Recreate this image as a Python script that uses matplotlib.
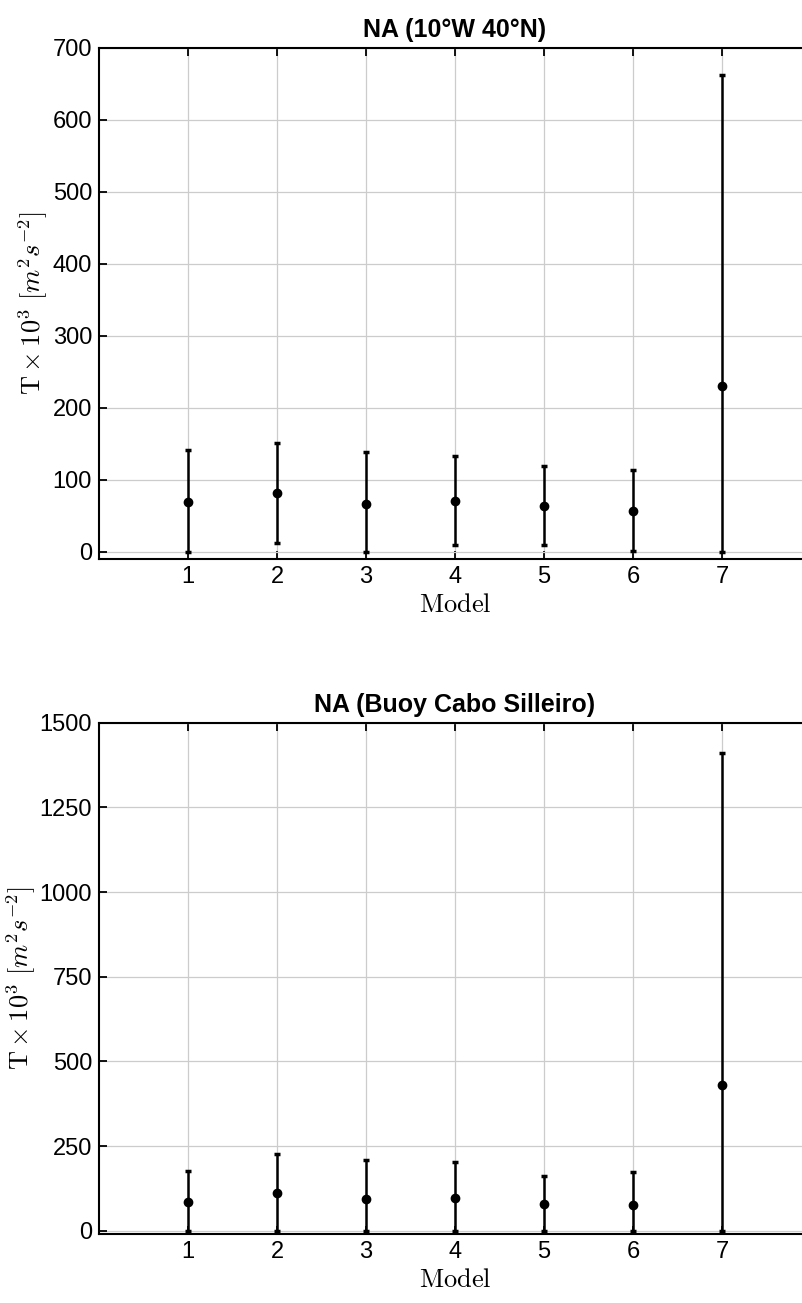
import matplotlib
matplotlib.use("Agg")
import matplotlib.pyplot as plt
import numpy as np

plt.rcParams['font.family'] = ['Liberation Sans Narrow', 'Liberation Sans', 'DejaVu Sans']
plt.rcParams['mathtext.fontset'] = 'cm'

models = [1, 2, 3, 4, 5, 6, 7]

# top panel: NA (10W 40N)
na_mean = [69, 82, 67, 70, 64, 56, 230]
na_low = [0, 12, 0, 9, 9, 1.5, 0]
na_high = [141, 151, 138, 133, 119, 113, 662]

# bottom panel: NA (Buoy Cabo Silleiro)
buoy_mean = [86, 113, 93, 97, 79, 77, 432]
buoy_low = [0, 0, 0, 0, 0, 0, 0]
buoy_high = [178, 228, 208, 204, 161, 173, 1409]

titles = ['NA (10°W 40°N)', 'NA (Buoy Cabo Silleiro)']
ylims = [(-10, 700), (-9, 1500)]
yticks = [np.arange(0, 701, 100), np.arange(0, 1501, 250)]
label_x = [-0.069, -0.086]

fig = plt.figure(figsize=(8.02, 13.03), dpi=100)
ax1 = fig.add_axes([0.1234, 0.5710, 0.8878, 0.3922])
ax2 = fig.add_axes([0.1234, 0.0530, 0.8878, 0.3924])

panels = [(ax1, na_mean, na_low, na_high), (ax2, buoy_mean, buoy_low, buoy_high)]
for i, (ax, mean, low, high) in enumerate(panels):
    mean = np.array(mean)
    err = [mean - np.array(low), np.array(high) - mean]
    ax.errorbar(models, mean, yerr=err, fmt='o', color='black', ms=6,
                elinewidth=1.8, capsize=2.2, capthick=2.5, zorder=3)
    ax.set_xlim(0, 8)
    ax.set_ylim(*ylims[i])
    ax.set_xticks(models)
    ax.set_yticks(yticks[i])
    ax.grid(True, color='#cccccc', linewidth=0.9)
    ax.set_axisbelow(True)
    ax.tick_params(direction='in', length=6, width=1.3, top=True, right=False,
                   labelsize=17, pad=5)
    for s in ['left', 'bottom', 'top']:
        ax.spines[s].set_linewidth(1.5)
    ax.spines['right'].set_visible(False)
    ax.set_title(titles[i], fontsize=18, fontweight='bold', pad=8)
    ax.set_xlabel(r'$\mathrm{Model}$', fontsize=19, labelpad=4)
    ax.set_ylabel(r'$\mathrm{T}\times10^{3}\ [m^{2}s^{-2}]$', fontsize=19)
    ax.yaxis.set_label_coords(label_x[i], 0.5)

fig.savefig('out.png', dpi=100)
